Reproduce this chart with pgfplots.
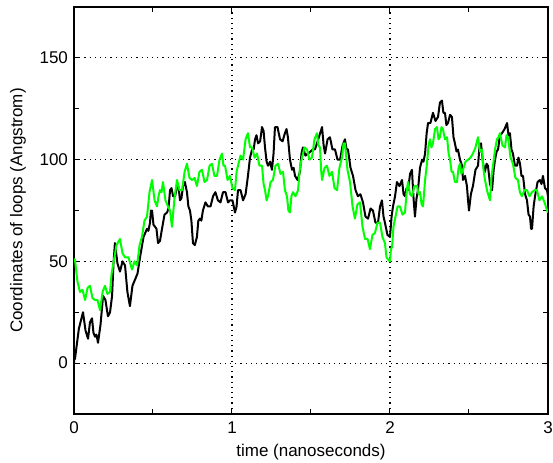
\documentclass[border=0pt]{standalone}
\usepackage{fontspec}
\setmainfont{Liberation Sans}
\usepackage{pgfplots}
\pgfplotsset{compat=1.18}
\begin{document}
\fontsize{8.5}{10}\selectfont
\begin{tikzpicture}
\begin{axis}[
  at={(0,0)}, anchor=south west,
  scale only axis, width=237pt, height=203.5pt,
  xmin=0, xmax=3, ymin=-25, ymax=175,
  xtick={0,1,2,3}, ytick={0,50,100,150},
  minor x tick num=1, minor y tick num=1,
  tick align=inside, major tick length=2.5pt, minor tick length=2.5pt,
  xtick pos=both, ytick pos=both,
  every tick/.style={black, line width=0.5pt},
  xmajorgrids, ymajorgrids,
  major grid style={black, line width=0.6pt, dash pattern=on 0.6pt off 2pt},
  axis line style={black, line width=0.7pt},
  /pgf/number format/assume math mode=true,
  tick label style={font=\fontsize{8.5}{10}\selectfont},
  xticklabel style={yshift=-1pt},
  xlabel={time (nanoseconds)},
  ylabel={Coordinates of loops (Angstrom)},
  xlabel style={at={(axis description cs:0.5,0)}, anchor=base, yshift=-21pt, font=\fontsize{8.5}{10}\selectfont},
  ylabel style={at={(axis description cs:-0.118,0.5)}, anchor=center, font=\fontsize{8.5}{10}\selectfont},
  clip=true,
]
\addplot[black, line width=1pt, line join=round] coordinates {
(0.000,0) (0.003,4) (0.006,2) (0.031,17) (0.057,25) (0.073,16) (0.089,12) (0.101,20) (0.114,22) (0.123,15) (0.133,13) (0.142,14) (0.152,10) (0.168,19) (0.184,33) (0.199,31) (0.215,23) (0.228,25) (0.241,33) (0.250,49) (0.259,59) (0.275,49) (0.291,45) (0.307,50) (0.323,48) (0.338,35) (0.354,28) (0.370,38) (0.386,41) (0.402,44) (0.418,52) (0.440,62) (0.462,66) (0.471,65) (0.481,69) (0.487,75) (0.494,75) (0.503,68) (0.513,67) (0.522,66) (0.532,59) (0.544,60) (0.557,66) (0.573,73) (0.589,74) (0.598,76) (0.608,85) (0.617,86) (0.627,82) (0.640,82) (0.652,87) (0.661,87) (0.671,80) (0.680,81) (0.690,87) (0.702,89) (0.715,84) (0.724,77) (0.734,75) (0.743,70) (0.753,59) (0.765,58) (0.778,62) (0.787,70) (0.797,71) (0.806,70) (0.816,75) (0.832,79) (0.848,77) (0.864,77) (0.880,82) (0.895,84) (0.911,80) (0.927,79) (0.943,84) (0.959,84) (0.975,79) (0.987,80) (1.003,80) (1.019,74) (1.029,77) (1.038,85) (1.054,85) (1.070,80) (1.086,83) (1.101,92) (1.114,101) (1.127,105) (1.137,105) (1.146,110) (1.155,112) (1.165,108) (1.178,109) (1.190,116) (1.200,114) (1.209,106) (1.219,99) (1.228,97) (1.241,99) (1.253,95) (1.263,103) (1.272,116) (1.288,116) (1.304,110) (1.320,109) (1.335,113) (1.345,115) (1.354,111) (1.367,100) (1.380,95) (1.390,96) (1.399,92) (1.415,90) (1.430,94) (1.440,103) (1.449,106) (1.465,102) (1.481,103) (1.497,104) (1.513,105) (1.525,105) (1.538,108) (1.554,112) (1.570,116) (1.580,107) (1.589,103) (1.605,110) (1.620,111) (1.636,105) (1.652,105) (1.668,100) (1.684,100) (1.700,107) (1.715,110) (1.725,105) (1.734,105) (1.750,96) (1.766,92) (1.782,85) (1.797,82) (1.813,83) (1.829,79) (1.845,72) (1.861,71) (1.877,76) (1.892,75) (1.908,69) (1.924,69) (1.937,77) (1.949,80) (1.959,72) (1.968,69) (1.984,63) (2.000,62) (2.010,72) (2.019,77) (2.032,82) (2.044,89) (2.060,87) (2.076,90) (2.086,83) (2.095,82) (2.105,86) (2.114,85) (2.127,93) (2.139,95) (2.149,81) (2.158,72) (2.168,81) (2.177,85) (2.190,96) (2.203,100) (2.212,99) (2.222,103) (2.232,113) (2.241,118) (2.256,118) (2.272,123) (2.288,119) (2.304,121) (2.316,128) (2.329,129) (2.338,123) (2.348,123) (2.357,117) (2.367,118) (2.380,122) (2.392,121) (2.402,111) (2.411,108) (2.421,104) (2.430,105) (2.443,100) (2.456,97) (2.462,90) (2.475,92) (2.487,87) (2.494,80) (2.500,75) (2.512,83) (2.525,87) (2.541,95) (2.557,97) (2.566,106) (2.576,108) (2.589,98) (2.601,94) (2.611,98) (2.620,97) (2.633,88) (2.646,85) (2.656,95) (2.665,100) (2.675,104) (2.684,105) (2.696,112) (2.709,113) (2.725,115) (2.741,118) (2.750,112) (2.759,113) (2.769,105) (2.778,103) (2.791,97) (2.804,97) (2.813,101) (2.823,98) (2.832,92) (2.842,92) (2.855,83) (2.867,80) (2.877,73) (2.886,72) (2.893,66) (2.899,66) (2.909,77) (2.918,82) (2.934,89) (2.949,90) (2.959,88) (2.968,92) (2.981,86) (2.994,85) (3.000,82)
};
\addplot[color={rgb,1:red,0;green,1;blue,0}, line width=1pt, line join=round] coordinates {
(0.000,51) (0.006,51) (0.022,40) (0.038,35) (0.054,36) (0.070,31) (0.086,37) (0.101,38) (0.117,32) (0.133,31) (0.149,31) (0.165,26) (0.181,35) (0.196,38) (0.212,34) (0.228,35) (0.238,44) (0.247,48) (0.269,58) (0.291,61) (0.307,54) (0.323,52) (0.345,52) (0.367,46) (0.383,50) (0.399,48) (0.415,58) (0.430,62) (0.446,70) (0.462,72) (0.478,84) (0.494,90) (0.510,80) (0.525,77) (0.535,82) (0.544,85) (0.554,84) (0.563,89) (0.579,80) (0.595,77) (0.608,75) (0.620,67) (0.636,81) (0.652,90) (0.668,85) (0.684,85) (0.700,94) (0.715,98) (0.731,91) (0.747,90) (0.763,91) (0.778,87) (0.794,94) (0.810,95) (0.826,89) (0.842,90) (0.858,97) (0.873,98) (0.889,92) (0.905,92) (0.921,100) (0.937,103) (0.946,97) (0.956,97) (0.972,90) (0.987,92) (1.003,86) (1.019,85) (1.029,94) (1.038,97) (1.054,102) (1.070,100) (1.086,110) (1.101,113) (1.114,106) (1.127,106) (1.143,101) (1.158,103) (1.174,97) (1.190,97) (1.200,88) (1.209,85) (1.219,80) (1.228,82) (1.244,89) (1.259,90) (1.275,97) (1.291,98) (1.307,93) (1.323,94) (1.335,85) (1.348,82) (1.357,75) (1.367,74) (1.376,82) (1.386,84) (1.402,82) (1.418,85) (1.430,96) (1.443,101) (1.459,106) (1.475,105) (1.490,100) (1.506,101) (1.522,110) (1.538,113) (1.547,107) (1.557,106) (1.564,95) (1.570,90) (1.586,96) (1.601,97) (1.617,92) (1.633,94) (1.649,86) (1.665,85) (1.680,96) (1.696,101) (1.706,108) (1.715,108) (1.731,95) (1.747,89) (1.763,77) (1.778,71) (1.794,78) (1.810,79) (1.826,67) (1.842,61) (1.858,61) (1.873,56) (1.889,63) (1.905,64) (1.921,69) (1.937,69) (1.952,62) (1.968,59) (1.978,52) (1.987,51) (2.000,50) (2.006,56) (2.013,57) (2.022,67) (2.032,71) (2.048,77) (2.063,77) (2.079,73) (2.095,74) (2.105,84) (2.114,89) (2.127,83) (2.139,82) (2.155,87) (2.171,87) (2.181,83) (2.190,84) (2.200,78) (2.209,77) (2.222,90) (2.234,98) (2.244,107) (2.253,110) (2.262,106) (2.272,108) (2.285,115) (2.297,116) (2.307,110) (2.316,111) (2.326,116) (2.335,115) (2.348,110) (2.361,111) (2.371,103) (2.380,100) (2.390,94) (2.399,94) (2.411,89) (2.424,89) (2.434,96) (2.443,98) (2.452,93) (2.462,95) (2.478,99) (2.494,100) (2.510,101) (2.525,103) (2.541,106) (2.557,111) (2.570,104) (2.582,105) (2.592,95) (2.601,90) (2.617,84) (2.633,80) (2.643,92) (2.652,97) (2.665,105) (2.677,110) (2.687,111) (2.696,113) (2.712,107) (2.728,106) (2.737,112) (2.747,111) (2.763,101) (2.778,98) (2.794,91) (2.810,90) (2.822,84) (2.835,82) (2.851,85) (2.867,85) (2.883,82) (2.899,84) (2.915,85) (2.930,85) (2.946,80) (2.962,82) (2.978,79) (2.994,75) (3.000,74)
};
\end{axis}
\pgfresetboundingbox
\path[use as bounding box] (-37pt,-24pt) rectangle (239.5pt,207pt);
\end{tikzpicture}
\end{document}
